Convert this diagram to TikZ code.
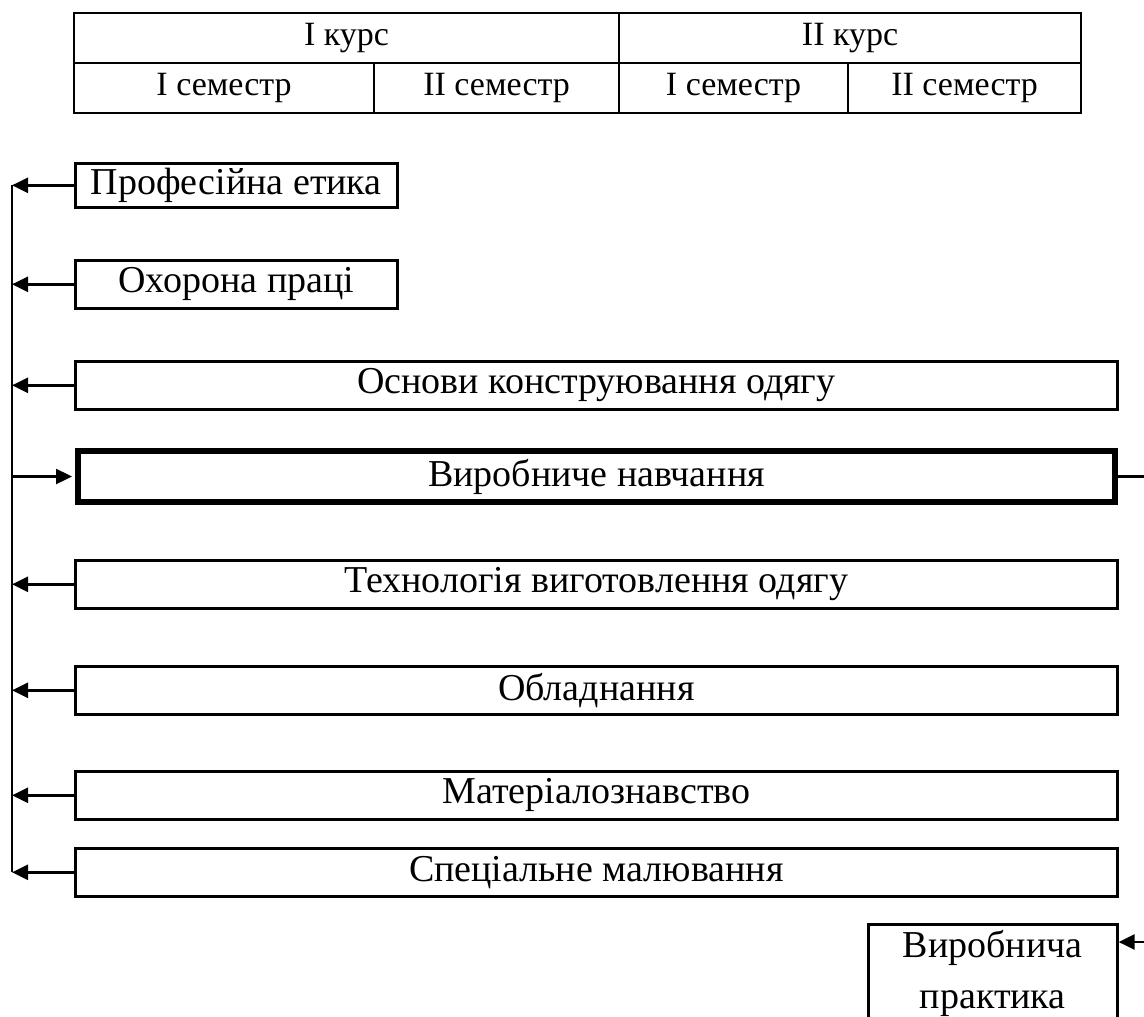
\documentclass[tikz,border=0pt]{standalone}
\usepackage{fontspec}
\setmainfont{Liberation Serif}
\usetikzlibrary{arrows.meta,positioning,calc}

\begin{document}
\begin{tikzpicture}[x=1pt,y=-1pt,
  font=\fontsize{38}{51}\selectfont,
  cell/.style={draw,line width=2.2pt,inner sep=0pt,minimum height=50pt,anchor=north west,
               font=\fontsize{34}{40}\selectfont},
  subj/.style={draw,line width=2.6pt,inner sep=0pt,minimum height=48pt,anchor=north west},
  arr/.style={line width=2.4pt,-{Triangle[length=16pt,width=15pt]}}]
  \clip (0,0) rectangle (1144,1017);
  % semester table
  \node[cell,minimum width=545pt] (k1) at (73,12) {I курс};
  \node[cell,minimum width=462pt] (k2) at (618,12) {II курс};
  \node[cell,minimum width=300pt] (s1) at (73,62) {I семестр};
  \node[cell,minimum width=245pt] (s2) at (373,62) {II семестр};
  \node[cell,minimum width=229pt] (s3) at (618,62) {I семестр};
  \node[cell,minimum width=233pt] (s4) at (847,62) {II семестр};
  % subjects
  \node[subj,minimum width=322pt,minimum height=44pt] (pe) at (74,162) {Професійна етика};
  \node[subj,minimum width=322pt] (op) at (74,259) {Охорона праці};
  \node[subj,minimum width=1042pt] (ok) at (74,360) {Основи конструювання одягу};
  \node[subj,line width=6pt,minimum width=1037pt,minimum height=51pt] (vn) at (75,448) {Виробниче навчання};
  \node[subj,minimum width=1042pt] (tv) at (74,559) {Технологія виготовлення одягу};
  \node[subj,minimum width=1042pt] (ob) at (74,665) {Обладнання};
  \node[subj,minimum width=1042pt] (mz) at (74,770) {Матеріалознавство};
  \node[subj,minimum width=1042pt] (sm) at (74,847) {Спеціальне малювання};
  \node[subj,minimum width=249pt,minimum height=0pt,text width=240pt,align=center,
        inner xsep=4pt,inner ysep=6pt] (vp) at (867,923) {Виробнича\\практика};
  % connectors
  \coordinate (bus) at (12,0);
  \coordinate (edge) at (1144,0);
  \draw[line width=2.4pt] (bus |- pe.west) -- (bus |- sm.west);
  \foreach \s in {pe,op,ok,tv,ob,mz,sm}
    \draw[arr] (\s.west) -- (\s.west -| bus);
  \draw[arr,shorten >=3pt] (bus |- vn.west) -- (vn.west);
  \draw[line width=2.4pt] (vn.east) -- (vn.east -| edge);
  \coordinate (vpin) at ($(vp.north east)+(0,19)$);
  \draw[arr] (vpin -| edge) -- (vpin);
\end{tikzpicture}
\end{document}
